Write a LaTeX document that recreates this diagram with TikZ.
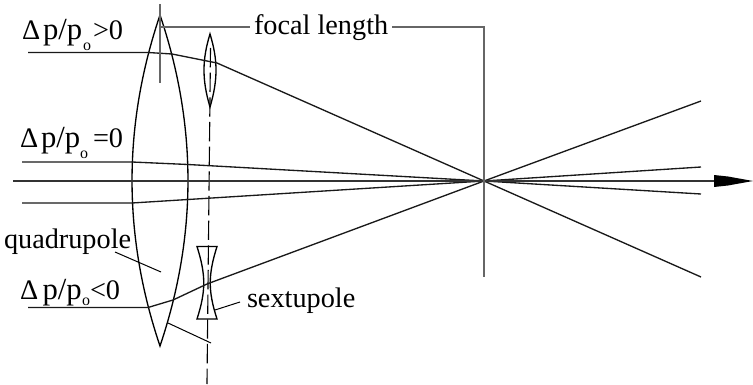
\documentclass[tikz,border=0pt]{standalone}
\usepackage{fontspec}
\setmainfont{Liberation Serif}
\newcommand{\lab}{\fontsize{21.2}{24}\selectfont}
\newcommand{\labp}{\fontsize{23}{28}\selectfont}
\newcommand{\labo}{\fontsize{12}{14}\selectfont}
\tikzset{
 ray/.style={line width=1pt,black!90,line join=round},
 lens/.style={line width=1pt,black},
 thin line/.style={line width=0.8pt,black!60},
 leader/.style={line width=0.75pt,black},
 txt/.style={anchor=base west,inner sep=0pt,outer sep=0pt},
 axisline/.style={line width=1pt,black!80}
}
\begin{document}
\begin{tikzpicture}[x=0.75pt,y=-0.75pt]
\useasboundingbox (0,0) rectangle (753,385);
\coordinate (F) at (484,181);
\coordinate (Q1) at (160,15);
\coordinate (Q2) at (160,346);
\coordinate (E1) at (701,277);
\coordinate (E2) at (701,194);
\coordinate (E3) at (701,167);
\coordinate (E4) at (701,101);
% labels
\node[txt] (a1) at (22,40) {\lab Δ};
\node[txt] (a2) at (43,40) {\labp p/p};
\node[txt] (a3) at (83,51) {\labo o};
\node[txt] (a4) at (93,40) {\lab >0};
\node[txt] (b1) at (20,147) {\lab Δ};
\node[txt] (b2) at (41,147) {\labp p/p};
\node[txt] (b3) at (80,158) {\labo o};
\node[txt] (b4) at (93,147) {\lab =0};
\node[txt] (c1) at (20,299) {\lab Δ};
\node[txt] (c2) at (42.5,299) {\labp p/p};
\node[txt] (c3) at (82,305) {\labo o};
\node[txt] (c4) at (90,299) {\lab <0};
\node[txt] (q) at (4,248) {\lab quadrupole};
\node[txt] (s) at (247,307) {\lab sextupole};
\node[txt] (f) at (254,35) {\lab focal length};
% lenses
\draw[lens] (Q1) .. controls (122.7,125.3) and (122.7,235.7) .. (Q2)
            .. controls (197.3,235.7) and (197.3,125.3) .. (Q1) -- cycle;
\draw[lens] (210,34) .. controls (202,60) and (202,80) .. (210,107)
            .. controls (218,80) and (218,60) .. (210,34) -- cycle;
\draw[lens] (197,246.5) -- (217,246.5) .. controls (208,275) and (208,291) .. (217,319)
            -- (197,319) .. controls (206,291) and (206,275) .. (197,246.5) -- cycle;
% dashed axis
\coordinate (D1) at (210.5,48);
\coordinate (D2) at (207,384);
\draw[line width=0.85pt,dash pattern=on 14.5pt off 4pt] (D1) -- (D2);
% rays
\draw[ray] (28,52.5) -- (148,52.5) -- (172,54) -- (217,63) -- (F) -- (E1);
\draw[ray] (22,162) -- (132,162) -- (188,164.5) -- (F) -- (E2);
\draw[ray] (22,203) -- (132,203) -- (188,199.5) -- (F) -- (E3);
\draw[ray] (28,307.5) -- (148,307.5) -- (173,300) -- (207,284) -- (F) -- (E4);
% optical axis with arrow head
\coordinate (A0) at (13,181);
\coordinate (A1) at (714,181);
\coordinate (A2) at (753,181);
\draw[axisline] (A0) -- (A1);
\fill[black] (714,175) -- (728,176.5) -- (A2) -- (728,185.5) -- (714,187) -- cycle;
% focal length dimension
\draw[thin line] (160,4) -- (160,83);
\draw[thin line] (160,27) -- (250,27);
\draw[thin line] (392,27) -- (484,27) -- (484,277);
% leaders
\draw[leader] (115,252) -- (161,272);
\draw[leader] (168,323) -- (211,343);
\draw[leader] (215,310) -- (240,302);
\end{tikzpicture}
\end{document}
